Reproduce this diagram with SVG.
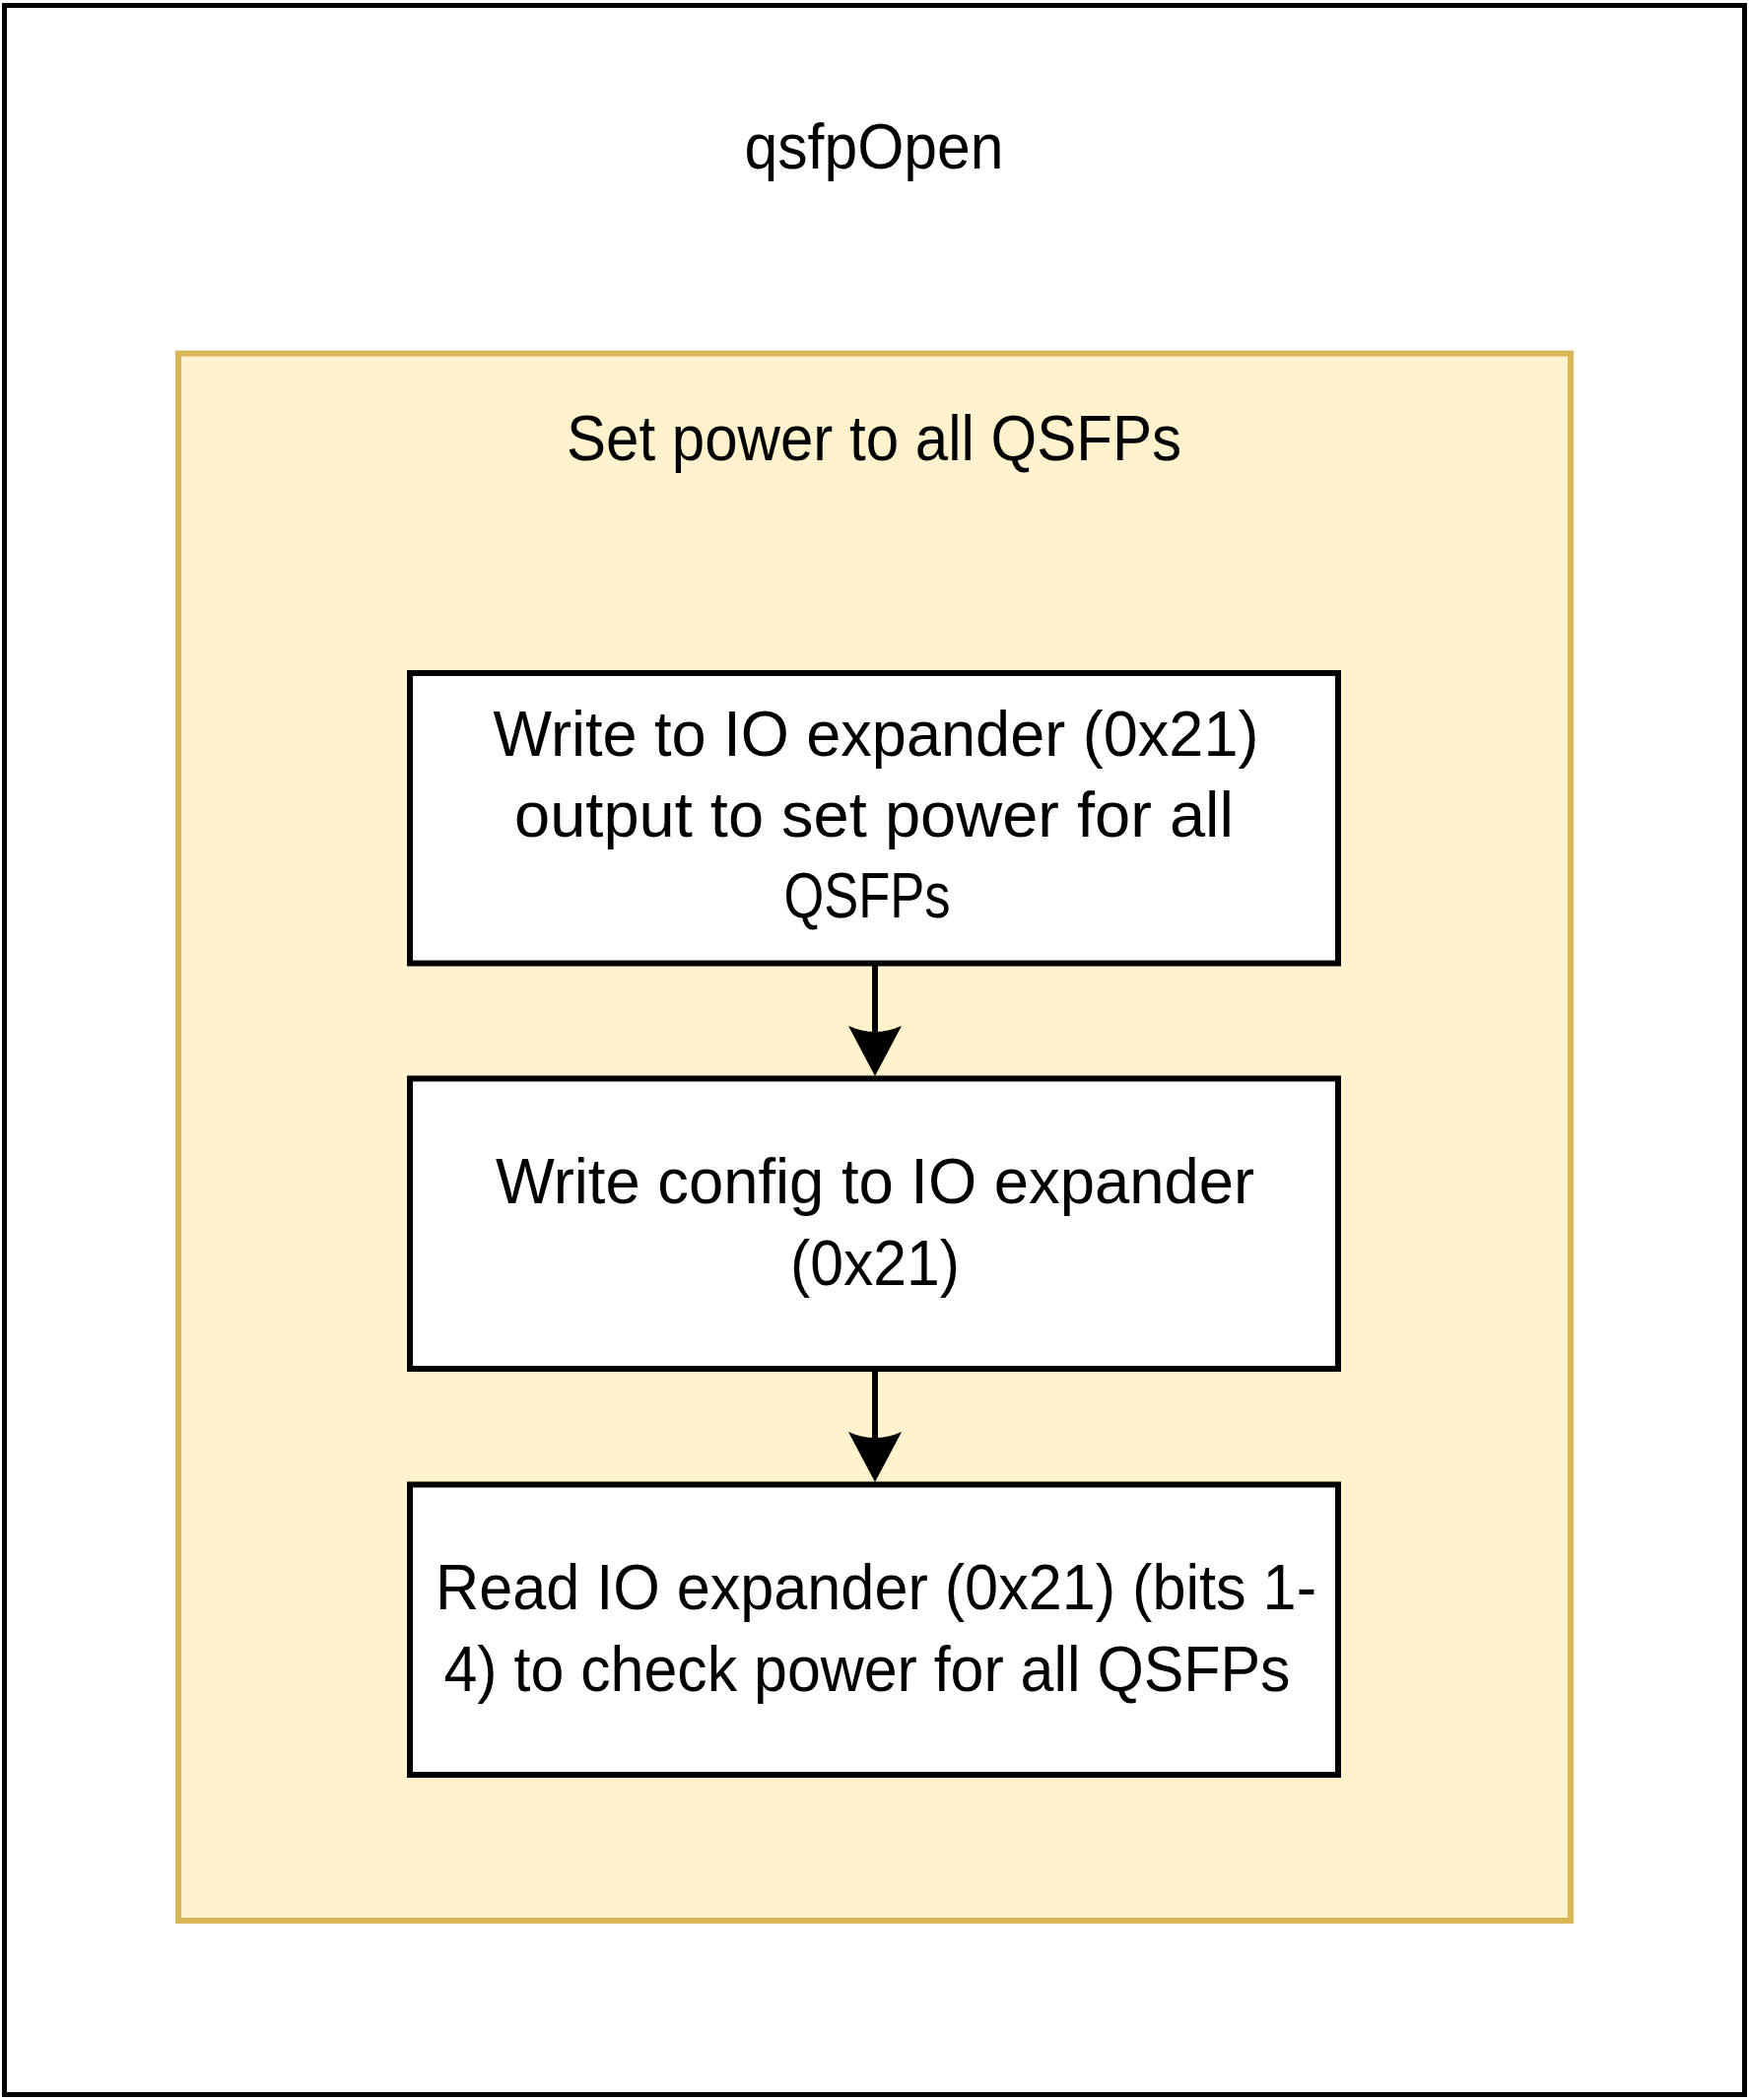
<svg xmlns="http://www.w3.org/2000/svg" width="1775" height="2131" viewBox="0 0 1775 2131">
  <style>
    .lbl { font-family: "Liberation Sans", Arial, sans-serif; font-size: 64px; fill: #000; text-anchor: middle; }
    .box { fill: #ffffff; stroke: #000; stroke-width: 6; }
    .conn { stroke: #000; stroke-width: 6; fill: none; }
  </style>
  <defs>
    <marker id="arrow" markerUnits="userSpaceOnUse" markerWidth="60" markerHeight="60" viewBox="0 0 60 60" refX="9" refY="27" orient="auto">
      <path d="M51,27 L0,0 Q12,27 0,54 Z" fill="#000"/>
    </marker>
  </defs>
  <rect x="0" y="0" width="1775" height="2131" fill="#ffffff"/>
  <g id="outer">
    <rect x="4.5" y="5.5" width="1766" height="2120" fill="#ffffff" stroke="#000" stroke-width="5"/>
    <text class="lbl" x="887" y="171" textLength="263" lengthAdjust="spacingAndGlyphs">qsfpOpen</text>
  </g>
  <g id="group-set-power">
    <rect x="181" y="358.7" width="1413" height="1590.3" fill="#FFF2CC" stroke="#D6B656" stroke-width="6"/>
    <text class="lbl" x="887" y="467" textLength="624" lengthAdjust="spacingAndGlyphs">Set power to all QSFPs</text>
  </g>
  <g id="node-write-output">
    <rect class="box" x="416" y="683" width="942" height="294.5"/>
    <text class="lbl" x="889" y="767" textLength="777" lengthAdjust="spacingAndGlyphs">Write to IO expander (0x21)</text>
    <text class="lbl" x="887" y="849" textLength="730" lengthAdjust="spacingAndGlyphs">output to set power for all</text>
    <text class="lbl" x="880" y="931" textLength="169" lengthAdjust="spacingAndGlyphs">QSFPs</text>
  </g>
  <g id="node-write-config">
    <rect class="box" x="416" y="1094.5" width="942" height="294.5"/>
    <text class="lbl" x="888" y="1221" textLength="770" lengthAdjust="spacingAndGlyphs">Write config to IO expander</text>
    <text class="lbl" x="888" y="1304" textLength="172" lengthAdjust="spacingAndGlyphs">(0x21)</text>
  </g>
  <g id="node-read">
    <rect class="box" x="416" y="1506.5" width="942" height="294.5"/>
    <text class="lbl" x="889" y="1633" textLength="894" lengthAdjust="spacingAndGlyphs">Read IO expander (0x21) (bits 1-</text>
    <text class="lbl" x="880" y="1716" textLength="859" lengthAdjust="spacingAndGlyphs">4) to check power for all QSFPs</text>
  </g>
  <g id="connectors">
    <line class="conn" x1="888" y1="980" x2="888" y2="1050" marker-end="url(#arrow)"/>
    <line class="conn" x1="888" y1="1392" x2="888" y2="1462" marker-end="url(#arrow)"/>
  </g>
</svg>
